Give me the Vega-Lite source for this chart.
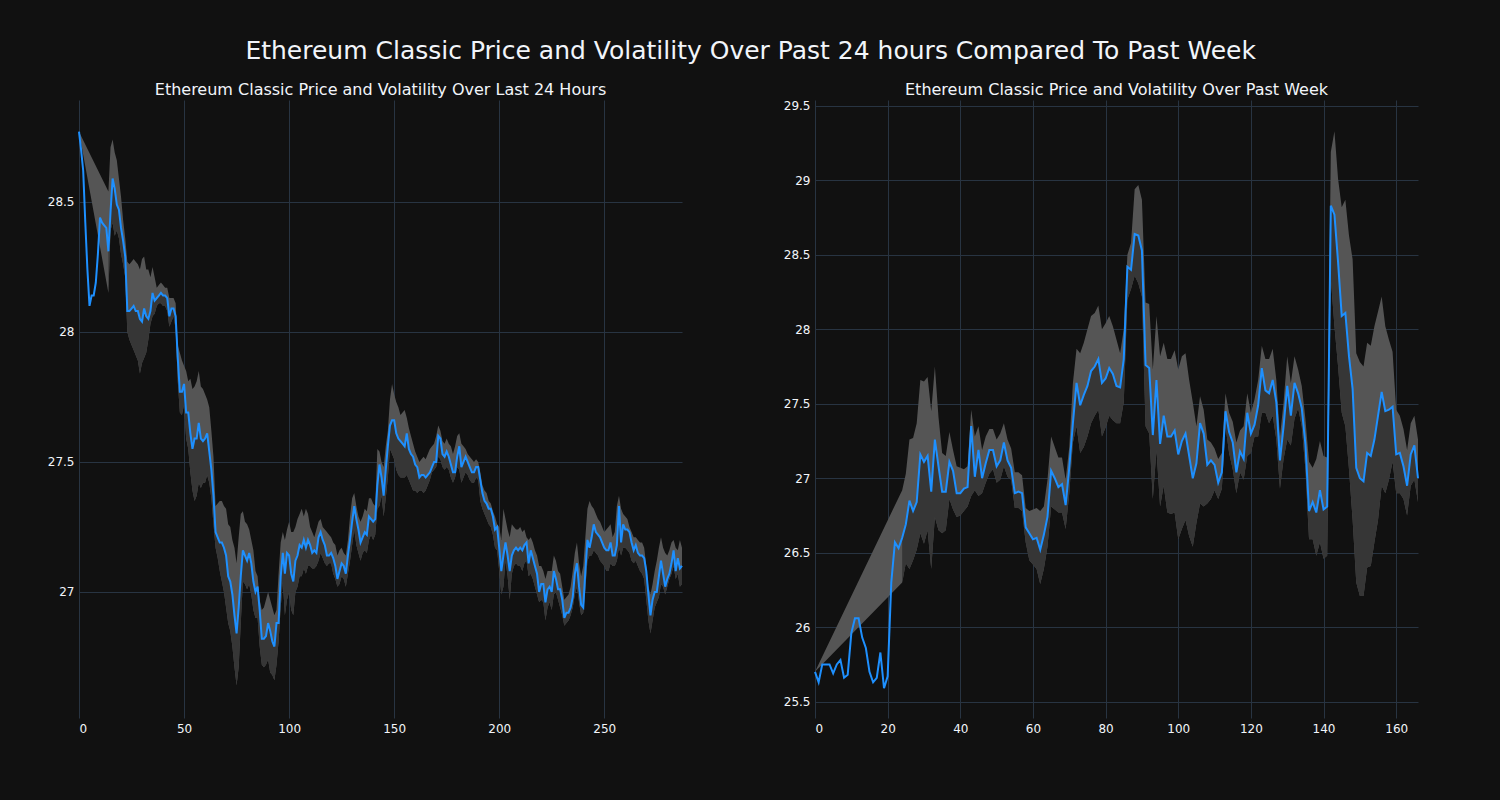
{
"$schema": "https://vega.github.io/schema/vega-lite/v6.json",
"background": "#111111",
"padding": {"left": 47, "top": 38, "right": 82, "bottom": 66},
"title": {"text": "Ethereum Classic Price and Volatility Over Past 24 hours Compared To Past Week", "fontSize": 25, "font": "DejaVu Sans", "fontWeight": "normal", "color": "#f2f5fa", "anchor": "middle", "dx": 16, "offset": 18},
"datasets": {
"day": [
{"x":0,"price":28.77,"upper":28.77,"lower":28.77},{"x":1,"price":28.70},{"x":2,"price":28.62},{"x":3,"price":28.42},{"x":4,"price":28.24},{"x":5,"price":28.10},{"x":6,"price":28.14},{"x":7,"price":28.14},{"x":8,"price":28.19},{"x":9,"price":28.30},{"x":10,"price":28.44},{"x":11,"price":28.42},{"x":12,"price":28.41},{"x":13,"price":28.40},
{"x":14,"price":28.31,"upper":28.54,"lower":28.15},{"x":15,"price":28.46,"upper":28.71,"lower":28.39},{"x":16,"price":28.59,"upper":28.74,"lower":28.42},{"x":17,"price":28.55,"upper":28.69,"lower":28.37},{"x":18,"price":28.49,"upper":28.66,"lower":28.39},{"x":19,"price":28.47,"upper":28.59,"lower":28.36},
{"x":20,"price":28.40,"upper":28.52,"lower":28.30},{"x":21,"price":28.35,"upper":28.43,"lower":28.26},{"x":22,"price":28.29,"upper":28.36,"lower":28.21},{"x":23,"price":28.08,"upper":28.27,"lower":28.00},{"x":24,"price":28.08,"upper":28.26,"lower":27.97},{"x":25,"price":28.09,"upper":28.27,"lower":27.95},{"x":26,"price":28.10,"upper":28.28,"lower":27.93},{"x":27,"price":28.08,"upper":28.27,"lower":27.91},{"x":28,"price":28.08,"upper":28.26,"lower":27.89},{"x":29,"price":28.05,"upper":28.24,"lower":27.84},
{"x":30,"price":28.04,"upper":28.28,"lower":27.88},{"x":31,"price":28.09,"upper":28.29,"lower":27.90},{"x":32,"price":28.06,"upper":28.24,"lower":27.92},{"x":33,"price":28.05,"upper":28.24,"lower":27.97},{"x":34,"price":28.08,"upper":28.21,"lower":28.03},{"x":35,"price":28.15,"upper":28.25,"lower":28.06},{"x":36,"price":28.12,"upper":28.21,"lower":28.07},{"x":37,"price":28.13,"upper":28.17,"lower":28.10},{"x":38,"price":28.14,"upper":28.18,"lower":28.11},{"x":39,"price":28.15,"upper":28.19,"lower":28.11},
{"x":40,"price":28.14,"upper":28.18,"lower":28.10},{"x":41,"price":28.14,"upper":28.17,"lower":28.10},{"x":42,"price":28.13,"upper":28.17,"lower":28.08},{"x":43,"price":28.06,"upper":28.13,"lower":28.02},{"x":44,"price":28.09,"upper":28.13,"lower":28.04},{"x":45,"price":28.09,"upper":28.13,"lower":28.06},{"x":46,"price":28.06,"upper":28.11,"lower":28.01},{"x":47,"price":27.90,"upper":27.95,"lower":27.81},{"x":48,"price":27.77,"upper":27.92,"lower":27.69},{"x":49,"price":27.77,"upper":27.89,"lower":27.68},
{"x":50,"price":27.80,"upper":27.87,"lower":27.72},{"x":51,"price":27.69,"upper":27.85,"lower":27.59},{"x":52,"price":27.69,"upper":27.81,"lower":27.55},{"x":53,"price":27.61,"upper":27.82,"lower":27.46},{"x":54,"price":27.55,"upper":27.78,"lower":27.39},{"x":55,"price":27.59,"upper":27.79,"lower":27.35},{"x":56,"price":27.59,"upper":27.81,"lower":27.37},{"x":57,"price":27.65,"upper":27.85,"lower":27.42},{"x":58,"price":27.59,"upper":27.79,"lower":27.40},{"x":59,"price":27.58,"upper":27.78,"lower":27.42},
{"x":60,"price":27.59,"upper":27.76,"lower":27.42},{"x":61,"price":27.61,"upper":27.74,"lower":27.45},{"x":62,"price":27.54,"upper":27.71,"lower":27.42},{"x":63,"price":27.47,"upper":27.62,"lower":27.36},{"x":64,"price":27.37,"upper":27.52,"lower":27.26},{"x":65,"price":27.23,"upper":27.33,"lower":27.17},{"x":66,"price":27.21,"upper":27.34,"lower":27.13},{"x":67,"price":27.19,"upper":27.35,"lower":27.08},{"x":68,"price":27.19,"upper":27.35,"lower":27.04},{"x":69,"price":27.17,"upper":27.33,"lower":27.00},
{"x":70,"price":27.14,"upper":27.32,"lower":26.94},{"x":71,"price":27.06,"upper":27.26,"lower":26.88},{"x":72,"price":27.04,"upper":27.25,"lower":26.85},{"x":73,"price":26.99,"upper":27.20,"lower":26.79},{"x":74,"price":26.91,"upper":27.17,"lower":26.71},{"x":75,"price":26.84,"upper":27.11,"lower":26.64},{"x":76,"price":26.94,"upper":27.21,"lower":26.71},{"x":77,"price":27.06,"upper":27.30,"lower":26.88},{"x":78,"price":27.16,"upper":27.31,"lower":27.04},{"x":79,"price":27.14,"upper":27.27,"lower":27.03},
{"x":80,"price":27.12,"upper":27.26,"lower":27.01},{"x":81,"price":27.15,"upper":27.24,"lower":27.03},{"x":82,"price":27.11,"upper":27.20,"lower":26.99},{"x":83,"price":27.04,"upper":27.16,"lower":26.93},{"x":84,"price":27.00,"upper":27.08,"lower":26.90},{"x":85,"price":27.02,"upper":27.06,"lower":26.90},{"x":86,"price":26.93,"upper":26.97,"lower":26.79},{"x":87,"price":26.82,"upper":26.93,"lower":26.72},{"x":88,"price":26.82,"upper":26.94,"lower":26.71},{"x":89,"price":26.83,"upper":26.97,"lower":26.72},
{"x":90,"price":26.88,"upper":27.00,"lower":26.74},{"x":91,"price":26.85,"upper":26.97,"lower":26.69},{"x":92,"price":26.81,"upper":26.94,"lower":26.68},{"x":93,"price":26.79,"upper":26.91,"lower":26.66},{"x":94,"price":26.88,"upper":26.93,"lower":26.72},{"x":95,"price":26.88,"upper":27.07,"lower":26.81},{"x":96,"price":27.06,"upper":27.19,"lower":26.94},{"x":97,"price":27.15,"upper":27.23,"lower":27.04},{"x":98,"price":27.07,"upper":27.20,"lower":26.91},{"x":99,"price":27.15,"upper":27.24,"lower":26.97},
{"x":100,"price":27.14,"upper":27.27,"lower":27.00},{"x":101,"price":27.07,"upper":27.23,"lower":26.93},{"x":102,"price":27.04,"upper":27.23,"lower":26.91},{"x":103,"price":27.12,"upper":27.25,"lower":27.00},{"x":104,"price":27.14,"upper":27.28,"lower":27.02},{"x":105,"price":27.18,"upper":27.30,"lower":27.06},{"x":106,"price":27.17,"upper":27.32,"lower":27.06},{"x":107,"price":27.20,"upper":27.29,"lower":27.09},{"x":108,"price":27.17,"upper":27.32,"lower":27.07},{"x":109,"price":27.20,"upper":27.30,"lower":27.10},
{"x":110,"price":27.18,"upper":27.25,"lower":27.10},{"x":111,"price":27.15,"upper":27.23,"lower":27.09},{"x":112,"price":27.16,"upper":27.21,"lower":27.09},{"x":113,"price":27.15,"upper":27.24,"lower":27.10},{"x":114,"price":27.21,"upper":27.27,"lower":27.12},{"x":115,"price":27.23,"upper":27.28,"lower":27.15},{"x":116,"price":27.20,"upper":27.25,"lower":27.13},{"x":117,"price":27.18,"upper":27.24,"lower":27.11},{"x":118,"price":27.14,"upper":27.23,"lower":27.10},{"x":119,"price":27.14,"upper":27.22,"lower":27.11},
{"x":120,"price":27.15,"upper":27.21,"lower":27.11},{"x":121,"price":27.13,"upper":27.19,"lower":27.07},{"x":122,"price":27.10,"upper":27.18,"lower":27.05},{"x":123,"price":27.05,"upper":27.14,"lower":27.02},{"x":124,"price":27.08,"upper":27.16,"lower":27.03},{"x":125,"price":27.11,"upper":27.17,"lower":27.06},{"x":126,"price":27.10,"upper":27.15,"lower":27.05},{"x":127,"price":27.07,"upper":27.14,"lower":27.02},{"x":128,"price":27.14,"upper":27.20,"lower":27.07},{"x":129,"price":27.20,"upper":27.29,"lower":27.12},
{"x":130,"price":27.27,"upper":27.36,"lower":27.18},{"x":131,"price":27.33,"upper":27.38,"lower":27.24},{"x":132,"price":27.28,"upper":27.33,"lower":27.18},{"x":133,"price":27.24,"upper":27.29,"lower":27.15},{"x":134,"price":27.19,"upper":27.27,"lower":27.12},{"x":135,"price":27.21,"upper":27.29,"lower":27.15},{"x":136,"price":27.23,"upper":27.32,"lower":27.16},{"x":137,"price":27.22,"upper":27.31,"lower":27.15},{"x":138,"price":27.29,"upper":27.36,"lower":27.20},{"x":139,"price":27.28,"upper":27.36,"lower":27.22},
{"x":140,"price":27.27,"upper":27.34,"lower":27.20},{"x":141,"price":27.28,"upper":27.33,"lower":27.22},{"x":142,"price":27.41,"upper":27.55,"lower":27.32},{"x":143,"price":27.49,"upper":27.54,"lower":27.33},{"x":144,"price":27.44,"upper":27.50,"lower":27.37},{"x":145,"price":27.37,"upper":27.48,"lower":27.29},{"x":146,"price":27.47,"upper":27.56,"lower":27.36},{"x":147,"price":27.56,"upper":27.62,"lower":27.44},{"x":148,"price":27.64,"upper":27.74,"lower":27.55},{"x":149,"price":27.66,"upper":27.80,"lower":27.53},
{"x":150,"price":27.66,"upper":27.76,"lower":27.51},{"x":151,"price":27.61,"upper":27.73,"lower":27.47},{"x":152,"price":27.59,"upper":27.71,"lower":27.45},{"x":153,"price":27.58,"upper":27.68,"lower":27.44},{"x":154,"price":27.57,"upper":27.69,"lower":27.44},{"x":155,"price":27.56,"upper":27.70,"lower":27.44},{"x":156,"price":27.61,"upper":27.67,"lower":27.45},{"x":157,"price":27.55,"upper":27.63,"lower":27.43},{"x":158,"price":27.53,"upper":27.60,"lower":27.41},{"x":159,"price":27.52,"upper":27.57,"lower":27.39},
{"x":160,"price":27.49,"upper":27.54,"lower":27.39},{"x":161,"price":27.48,"upper":27.52,"lower":27.38},{"x":162,"price":27.44,"upper":27.50,"lower":27.39},{"x":163,"price":27.45,"upper":27.51,"lower":27.39},{"x":164,"price":27.45,"upper":27.52,"lower":27.38},{"x":165,"price":27.44,"upper":27.51,"lower":27.39},{"x":166,"price":27.45,"upper":27.53,"lower":27.41},{"x":167,"price":27.46,"upper":27.55,"lower":27.43},{"x":168,"price":27.48,"upper":27.56,"lower":27.46},{"x":169,"price":27.50,"upper":27.57,"lower":27.47},
{"x":170,"price":27.50,"upper":27.60,"lower":27.48},{"x":171,"price":27.60,"upper":27.64,"lower":27.52},{"x":172,"price":27.59,"upper":27.62,"lower":27.51},{"x":173,"price":27.53,"upper":27.58,"lower":27.48},{"x":174,"price":27.52,"upper":27.57,"lower":27.47},{"x":175,"price":27.54,"upper":27.59,"lower":27.48},{"x":176,"price":27.52,"upper":27.57,"lower":27.47},{"x":177,"price":27.49,"upper":27.56,"lower":27.44},{"x":178,"price":27.46,"upper":27.53,"lower":27.42},{"x":179,"price":27.46,"upper":27.56,"lower":27.44},
{"x":180,"price":27.52,"upper":27.60,"lower":27.48},{"x":181,"price":27.56,"upper":27.61,"lower":27.47},{"x":182,"price":27.48,"upper":27.57,"lower":27.42},{"x":183,"price":27.50,"upper":27.56,"lower":27.44},{"x":184,"price":27.52,"upper":27.55,"lower":27.46},{"x":185,"price":27.50,"upper":27.53,"lower":27.45},{"x":186,"price":27.48,"upper":27.52,"lower":27.43},{"x":187,"price":27.46,"upper":27.51,"lower":27.42},{"x":188,"price":27.46,"upper":27.50,"lower":27.42},{"x":189,"price":27.48,"upper":27.51,"lower":27.44},
{"x":190,"price":27.48,"upper":27.50,"lower":27.43},{"x":191,"price":27.43,"upper":27.46,"lower":27.35},{"x":192,"price":27.38,"upper":27.41,"lower":27.32},{"x":193,"price":27.35,"upper":27.39,"lower":27.30},{"x":194,"price":27.34,"upper":27.38,"lower":27.28},{"x":195,"price":27.32,"upper":27.35,"lower":27.26},{"x":196,"price":27.32,"upper":27.34,"lower":27.25},{"x":197,"price":27.29,"upper":27.31,"lower":27.22},{"x":198,"price":27.24,"upper":27.29,"lower":27.17},{"x":199,"price":27.25,"upper":27.26,"lower":27.16},
{"x":200,"price":27.17,"upper":27.25,"lower":27.08},{"x":201,"price":27.08,"upper":27.20,"lower":26.99},{"x":202,"price":27.14,"upper":27.32,"lower":27.02},{"x":203,"price":27.19,"upper":27.28,"lower":27.12},{"x":204,"price":27.14,"upper":27.24,"lower":27.06},{"x":205,"price":27.08,"upper":27.21,"lower":26.97},{"x":206,"price":27.14,"upper":27.26,"lower":27.07},{"x":207,"price":27.16,"upper":27.25,"lower":27.10},{"x":208,"price":27.17,"upper":27.24,"lower":27.11},{"x":209,"price":27.16,"upper":27.24,"lower":27.10},
{"x":210,"price":27.17,"upper":27.25,"lower":27.10},{"x":211,"price":27.16,"upper":27.23,"lower":27.08},{"x":212,"price":27.18,"upper":27.24,"lower":27.11},{"x":213,"price":27.19,"upper":27.21,"lower":27.12},{"x":214,"price":27.11,"upper":27.20,"lower":27.06},{"x":215,"price":27.16,"upper":27.21,"lower":27.07},{"x":216,"price":27.13,"upper":27.19,"lower":27.05},{"x":217,"price":27.10,"upper":27.16,"lower":27.02},{"x":218,"price":27.07,"upper":27.14,"lower":26.99},{"x":219,"price":27.00,"upper":27.10,"lower":26.96},
{"x":220,"price":27.03,"upper":27.10,"lower":26.97},{"x":221,"price":27.03,"upper":27.08,"lower":26.96},{"x":222,"price":26.96,"upper":27.05,"lower":26.89},{"x":223,"price":27.01,"upper":27.08,"lower":26.94},{"x":224,"price":27.02,"upper":27.08,"lower":26.96},{"x":225,"price":27.00,"upper":27.08,"lower":26.93},{"x":226,"price":27.08,"upper":27.14,"lower":26.99},{"x":227,"price":27.05,"upper":27.12,"lower":27.00},{"x":228,"price":27.01,"upper":27.08,"lower":26.97},{"x":229,"price":27.01,"upper":27.07,"lower":26.94},
{"x":230,"price":26.97,"upper":27.02,"lower":26.91},{"x":231,"price":26.90,"upper":26.97,"lower":26.87},{"x":232,"price":26.92,"upper":26.98,"lower":26.88},{"x":233,"price":26.92,"upper":26.99,"lower":26.89},{"x":234,"price":26.94,"upper":27.02,"lower":26.91},{"x":235,"price":26.98,"upper":27.08,"lower":26.94},{"x":236,"price":27.07,"upper":27.15,"lower":26.99},{"x":237,"price":27.11,"upper":27.19,"lower":27.02},{"x":238,"price":27.02,"upper":27.11,"lower":26.96},{"x":239,"price":26.95,"upper":27.06,"lower":26.91},
{"x":240,"price":26.94,"upper":27.10,"lower":26.92},{"x":241,"price":27.08,"upper":27.21,"lower":27.01},{"x":242,"price":27.20,"upper":27.32,"lower":27.12},{"x":243,"price":27.17,"upper":27.35,"lower":27.14},{"x":244,"price":27.21,"upper":27.33,"lower":27.14},{"x":245,"price":27.26,"upper":27.32,"lower":27.16},{"x":246,"price":27.23,"upper":27.30,"lower":27.15},{"x":247,"price":27.22,"upper":27.28,"lower":27.14},{"x":248,"price":27.21,"upper":27.27,"lower":27.12},{"x":249,"price":27.19,"upper":27.25,"lower":27.11},
{"x":250,"price":27.17,"upper":27.23,"lower":27.10},{"x":251,"price":27.16,"upper":27.24,"lower":27.08},{"x":252,"price":27.16,"upper":27.25,"lower":27.08},{"x":253,"price":27.19,"upper":27.26,"lower":27.11},{"x":254,"price":27.14,"upper":27.21,"lower":27.10},{"x":255,"price":27.14,"upper":27.23,"lower":27.10},{"x":256,"price":27.18,"upper":27.33,"lower":27.12},{"x":257,"price":27.33,"upper":27.37,"lower":27.17},{"x":258,"price":27.19,"upper":27.32,"lower":27.14},{"x":259,"price":27.26,"upper":27.30,"lower":27.17},
{"x":260,"price":27.24,"upper":27.29,"lower":27.17},{"x":261,"price":27.24,"upper":27.28,"lower":27.16},{"x":262,"price":27.23,"upper":27.25,"lower":27.15},{"x":263,"price":27.19,"upper":27.23,"lower":27.12},{"x":264,"price":27.16,"upper":27.21,"lower":27.11},{"x":265,"price":27.18,"upper":27.21,"lower":27.12},{"x":266,"price":27.15,"upper":27.20,"lower":27.10},{"x":267,"price":27.14,"upper":27.19,"lower":27.08},{"x":268,"price":27.14,"upper":27.19,"lower":27.07},{"x":269,"price":27.13,"upper":27.17,"lower":27.05},
{"x":270,"price":27.08,"upper":27.10,"lower":26.97},{"x":271,"price":26.99,"upper":27.02,"lower":26.89},{"x":272,"price":26.91,"upper":26.99,"lower":26.84},{"x":273,"price":26.97,"upper":27.03,"lower":26.89},{"x":274,"price":27.00,"upper":27.08,"lower":26.94},{"x":275,"price":27.00,"upper":27.12,"lower":26.96},{"x":276,"price":27.06,"upper":27.17,"lower":26.98},{"x":277,"price":27.12,"upper":27.21,"lower":27.03},{"x":278,"price":27.07,"upper":27.17,"lower":27.02},{"x":279,"price":27.02,"upper":27.15,"lower":26.99},
{"x":280,"price":27.05,"upper":27.14,"lower":27.02},{"x":281,"price":27.07,"upper":27.16,"lower":27.05},{"x":282,"price":27.11,"upper":27.19,"lower":27.07},{"x":283,"price":27.16,"upper":27.20,"lower":27.10},{"x":284,"price":27.08,"upper":27.17,"lower":27.05},{"x":285,"price":27.13,"upper":27.16,"lower":27.07},{"x":286,"price":27.09,"upper":27.20,"lower":27.02},{"x":287,"price":27.10,"upper":27.17,"lower":27.03}
],
"week": [
{"x":0,"price":25.70,"upper":25.70,"lower":25.70},{"x":1,"price":25.63},{"x":2,"price":25.75},{"x":3,"price":25.75},{"x":4,"price":25.75},{"x":5,"price":25.69},{"x":6,"price":25.75},{"x":7,"price":25.78},{"x":8,"price":25.66},{"x":9,"price":25.68},
{"x":10,"price":25.96},{"x":11,"price":26.06},{"x":12,"price":26.06},{"x":13,"price":25.93},{"x":14,"price":25.86},{"x":15,"price":25.70},{"x":16,"price":25.63},{"x":17,"price":25.66},{"x":18,"price":25.83},{"x":19,"price":25.59},
{"x":20,"price":25.67},{"x":21,"price":26.30},{"x":22,"price":26.57},{"x":23,"price":26.53},{"x":24,"price":26.60,"upper":26.92,"lower":26.30},{"x":25,"price":26.69,"upper":27.03,"lower":26.43},{"x":26,"price":26.85,"upper":27.26,"lower":26.39},{"x":27,"price":26.78,"upper":27.27,"lower":26.45},{"x":28,"price":26.84,"upper":27.37,"lower":26.52},{"x":29,"price":27.16,"upper":27.66,"lower":26.63},
{"x":30,"price":27.11,"upper":27.65,"lower":26.56},{"x":31,"price":27.15,"upper":27.68,"lower":26.65},{"x":32,"price":26.91,"upper":27.45,"lower":26.39},{"x":33,"price":27.26,"upper":27.75,"lower":26.74},{"x":34,"price":27.08,"upper":27.41,"lower":26.65},{"x":35,"price":26.91,"upper":27.17,"lower":26.63},{"x":36,"price":26.91,"upper":27.15,"lower":26.65},{"x":37,"price":27.11,"upper":27.31,"lower":26.86},{"x":38,"price":27.05,"upper":27.19,"lower":26.79},{"x":39,"price":26.90,"upper":27.08,"lower":26.74},
{"x":40,"price":26.90,"upper":27.07,"lower":26.75},{"x":41,"price":26.93,"upper":27.06,"lower":26.78},{"x":42,"price":26.94,"upper":27.08,"lower":26.81},{"x":43,"price":27.35,"upper":27.46,"lower":26.88},{"x":44,"price":27.01,"upper":27.28,"lower":26.92},{"x":45,"price":27.19,"upper":27.35,"lower":26.88},{"x":46,"price":27.00,"upper":27.19,"lower":26.90},{"x":47,"price":27.10,"upper":27.28,"lower":26.97},{"x":48,"price":27.19,"upper":27.33,"lower":27.03},{"x":49,"price":27.19,"upper":27.33,"lower":27.06},
{"x":50,"price":27.08,"upper":27.26,"lower":26.97},{"x":51,"price":27.12,"upper":27.30,"lower":26.99},{"x":52,"price":27.24,"upper":27.37,"lower":27.08},{"x":53,"price":27.12,"upper":27.26,"lower":27.01},{"x":54,"price":27.07,"upper":27.20,"lower":26.99},{"x":55,"price":26.90,"upper":27.04,"lower":26.80},{"x":56,"price":26.91,"upper":27.04,"lower":26.80},{"x":57,"price":26.90,"upper":27.02,"lower":26.78},{"x":58,"price":26.67,"upper":26.80,"lower":26.57},{"x":59,"price":26.63,"upper":26.78,"lower":26.45},
{"x":60,"price":26.59,"upper":26.79,"lower":26.42},{"x":61,"price":26.60,"upper":26.80,"lower":26.39},{"x":62,"price":26.52,"upper":26.78,"lower":26.29},{"x":63,"price":26.62,"upper":26.81,"lower":26.39},{"x":64,"price":26.74,"upper":26.99,"lower":26.54},{"x":65,"price":27.05,"upper":27.28,"lower":26.81},{"x":66,"price":27.00,"upper":27.21,"lower":26.79},{"x":67,"price":26.94,"upper":27.14,"lower":26.77},{"x":68,"price":26.96,"upper":27.14,"lower":26.77},{"x":69,"price":26.82,"upper":26.99,"lower":26.66},
{"x":70,"price":27.07,"upper":27.21,"lower":26.90},{"x":71,"price":27.37,"upper":27.64,"lower":27.24},{"x":72,"price":27.64,"upper":27.87,"lower":27.35},{"x":73,"price":27.49,"upper":27.84,"lower":27.17},{"x":74,"price":27.56,"upper":27.91,"lower":27.21},{"x":75,"price":27.62,"upper":28.00,"lower":27.28},{"x":76,"price":27.72,"upper":28.09,"lower":27.37},{"x":77,"price":27.75,"upper":28.11,"lower":27.42},{"x":78,"price":27.80,"upper":28.16,"lower":27.46},{"x":79,"price":27.64,"upper":28.00,"lower":27.28},
{"x":80,"price":27.67,"upper":28.04,"lower":27.34},{"x":81,"price":27.74,"upper":28.09,"lower":27.42},{"x":82,"price":27.70,"upper":28.02,"lower":27.39},{"x":83,"price":27.62,"upper":27.93,"lower":27.37},{"x":84,"price":27.61,"upper":27.84,"lower":27.37},{"x":85,"price":27.80,"upper":28.00,"lower":27.51},{"x":86,"price":28.42,"upper":28.50,"lower":28.20},{"x":87,"price":28.40,"upper":28.58,"lower":28.27},{"x":88,"price":28.64,"upper":28.94,"lower":28.36},{"x":89,"price":28.63,"upper":28.97,"lower":28.31},
{"x":90,"price":28.53,"upper":28.87,"lower":28.22},{"x":91,"price":27.76,"upper":28.18,"lower":27.35},{"x":92,"price":27.74,"upper":28.17,"lower":27.30},{"x":93,"price":27.29,"upper":27.73,"lower":26.86},{"x":94,"price":27.66,"upper":28.09,"lower":27.19},{"x":95,"price":27.23,"upper":27.82,"lower":26.81},{"x":96,"price":27.42,"upper":27.91,"lower":26.95},{"x":97,"price":27.28,"upper":27.80,"lower":26.77},{"x":98,"price":27.28,"upper":27.80,"lower":26.76},{"x":99,"price":27.32,"upper":27.86,"lower":26.77},
{"x":100,"price":27.16,"upper":27.73,"lower":26.59},{"x":101,"price":27.25,"upper":27.82,"lower":26.66},{"x":102,"price":27.30,"upper":27.84,"lower":26.72},{"x":103,"price":27.15,"upper":27.66,"lower":26.61},{"x":104,"price":27.00,"upper":27.51,"lower":26.54},{"x":105,"price":27.10,"upper":27.35,"lower":26.70},{"x":106,"price":27.37,"upper":27.55,"lower":26.83},{"x":107,"price":27.30,"upper":27.46,"lower":26.81},{"x":108,"price":27.09,"upper":27.26,"lower":26.83},{"x":109,"price":27.12,"upper":27.24,"lower":26.86},
{"x":110,"price":27.09,"upper":27.20,"lower":26.92},{"x":111,"price":26.97,"upper":27.13,"lower":26.86},{"x":112,"price":27.04,"upper":27.17,"lower":26.93},{"x":113,"price":27.45,"upper":27.57,"lower":27.35},{"x":114,"price":27.31,"upper":27.44,"lower":27.17},{"x":115,"price":27.24,"upper":27.38,"lower":27.06},{"x":116,"price":27.04,"upper":27.24,"lower":26.90},{"x":117,"price":27.18,"upper":27.32,"lower":27.04},{"x":118,"price":27.13,"upper":27.35,"lower":26.99},{"x":119,"price":27.44,"upper":27.57,"lower":27.15},
{"x":120,"price":27.30,"upper":27.44,"lower":27.17},{"x":121,"price":27.36,"upper":27.53,"lower":27.28},{"x":122,"price":27.49,"upper":27.66,"lower":27.28},{"x":123,"price":27.74,"upper":27.89,"lower":27.44},{"x":124,"price":27.59,"upper":27.80,"lower":27.44},{"x":125,"price":27.57,"upper":27.80,"lower":27.37},{"x":126,"price":27.66,"upper":27.87,"lower":27.42},{"x":127,"price":27.51,"upper":27.66,"lower":27.26},{"x":128,"price":27.12,"upper":27.28,"lower":26.93},{"x":129,"price":27.35,"upper":27.51,"lower":27.13},
{"x":130,"price":27.62,"upper":27.82,"lower":27.26},{"x":131,"price":27.42,"upper":27.64,"lower":27.22},{"x":132,"price":27.64,"upper":27.82,"lower":27.40},{"x":133,"price":27.57,"upper":27.73,"lower":27.47},{"x":134,"price":27.47,"upper":27.62,"lower":27.35},{"x":135,"price":27.23,"upper":27.40,"lower":27.06},{"x":136,"price":26.78,"upper":27.11,"lower":26.59},{"x":137,"price":26.84,"upper":27.07,"lower":26.59},{"x":138,"price":26.77,"upper":27.13,"lower":26.48},{"x":139,"price":26.92,"upper":27.25,"lower":26.57},
{"x":140,"price":26.79,"upper":27.15,"lower":26.46},{"x":141,"price":26.81,"upper":27.14,"lower":26.48},{"x":142,"price":28.83,"upper":29.19,"lower":28.34},{"x":143,"price":28.77,"upper":29.33,"lower":28.02},{"x":144,"price":28.45,"upper":29.01,"lower":27.75},{"x":145,"price":28.09,"upper":28.82,"lower":27.44},{"x":146,"price":28.11,"upper":28.87,"lower":27.35},{"x":147,"price":27.82,"upper":28.63,"lower":27.06},{"x":148,"price":27.60,"upper":28.47,"lower":26.72},{"x":149,"price":27.07,"upper":27.84,"lower":26.30},
{"x":150,"price":27.00,"upper":27.78,"lower":26.21},{"x":151,"price":26.98,"upper":27.75,"lower":26.21},{"x":152,"price":27.17,"upper":27.91,"lower":26.40},{"x":153,"price":27.15,"upper":27.89,"lower":26.41},{"x":154,"price":27.26,"upper":28.02,"lower":26.57},{"x":155,"price":27.42,"upper":28.12,"lower":26.72},{"x":156,"price":27.58,"upper":28.22,"lower":26.95},{"x":157,"price":27.45,"upper":28.02,"lower":26.90},{"x":158,"price":27.46,"upper":27.93,"lower":26.99},{"x":159,"price":27.48,"upper":27.85,"lower":27.11},
{"x":160,"price":27.16,"upper":27.46,"lower":26.90},{"x":161,"price":27.17,"upper":27.42,"lower":26.90},{"x":162,"price":27.08,"upper":27.33,"lower":26.86},{"x":163,"price":26.95,"upper":27.19,"lower":26.75},{"x":164,"price":27.16,"upper":27.37,"lower":26.95},{"x":165,"price":27.22,"upper":27.42,"lower":26.99},{"x":166,"price":27.00,"upper":27.26,"lower":26.84}
]
},
"hconcat": [
{
"width": 603, "height": 618,
"title": {"text": "Ethereum Classic Price and Volatility Over Last 24 Hours", "fontSize": 16, "offset": 2},
"data": {"name": "day"},
"encoding": {"x": {"field": "x", "type": "quantitative", "scale": {"domain": [0, 287], "nice": false, "zero": false}, "axis": {"values": [0, 50, 100, 150, 200, 250], "title": null}}},
"layer": [
{"transform": [{"filter": "isValid(datum.upper)"}], "mark": {"type": "area", "color": "#555555"}, "encoding": {"y": {"field": "upper", "type": "quantitative", "scale": {"domain": [26.515, 28.892], "nice": false, "zero": false}, "axis": {"values": [27, 27.5, 28, 28.5], "format": "~g", "title": null}}, "y2": {"field": "lower"}}},
{"transform": [{"filter": "isValid(datum.upper) && datum.x > 0"}], "mark": {"type": "area", "color": "#363636"}, "encoding": {"y": {"field": "price", "type": "quantitative", "title": null}, "y2": {"field": "lower"}}},
{"mark": {"type": "line", "color": "#1E90FF", "strokeWidth": 2}, "encoding": {"y": {"field": "price", "type": "quantitative", "title": null}}}
]
},
{
"width": 603, "height": 618,
"title": {"text": "Ethereum Classic Price and Volatility Over Past Week", "fontSize": 16, "offset": 2},
"data": {"name": "week"},
"encoding": {"x": {"field": "x", "type": "quantitative", "scale": {"domain": [0, 166], "nice": false, "zero": false}, "axis": {"values": [0, 20, 40, 60, 80, 100, 120, 140, 160], "title": null}}},
"layer": [
{"transform": [{"filter": "isValid(datum.upper)"}], "mark": {"type": "area", "color": "#555555"}, "encoding": {"y": {"field": "upper", "type": "quantitative", "scale": {"domain": [25.39, 29.54], "nice": false, "zero": false}, "axis": {"values": [25.5, 26, 26.5, 27, 27.5, 28, 28.5, 29, 29.5], "format": "~g", "title": null}}, "y2": {"field": "lower"}}},
{"transform": [{"filter": "isValid(datum.upper) && datum.x > 0"}], "mark": {"type": "area", "color": "#363636"}, "encoding": {"y": {"field": "price", "type": "quantitative", "title": null}, "y2": {"field": "lower"}}},
{"mark": {"type": "line", "color": "#1E90FF", "strokeWidth": 2}, "encoding": {"y": {"field": "price", "type": "quantitative", "title": null}}}
]
}
],
"spacing": 97,
"resolve": {"scale": {"x": "independent", "y": "independent"}},
"config": {
"view": {"stroke": null},
"axis": {"domain": false, "ticks": false, "grid": true, "gridColor": "#283442", "gridWidth": 1, "labelColor": "#f2f5fa", "labelFont": "DejaVu Sans", "labelFontSize": 12, "labelPadding": 5},
"axisY": {"minExtent": 28, "maxExtent": 28},
"title": {"color": "#f2f5fa", "font": "DejaVu Sans", "fontWeight": "normal"}
}
}
